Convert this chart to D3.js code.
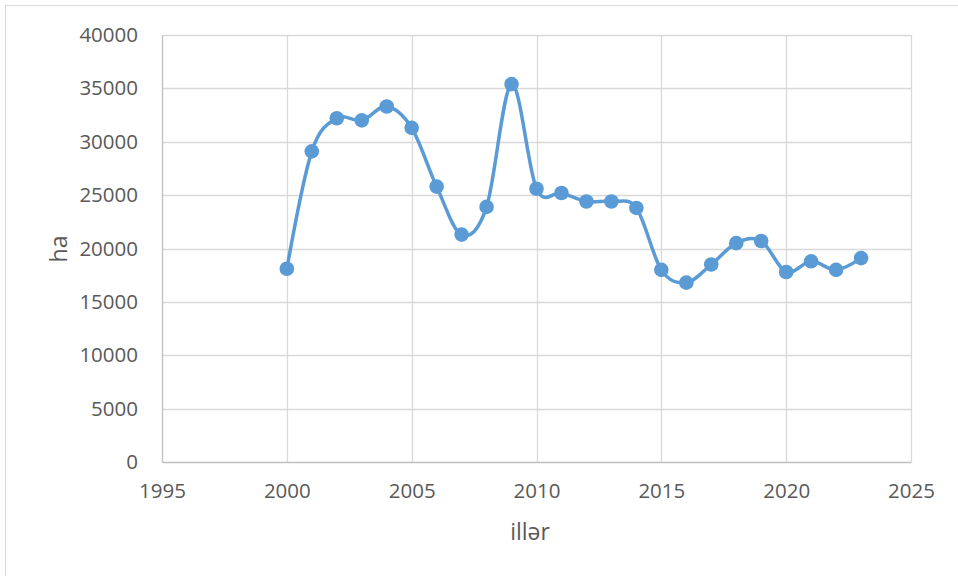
<!DOCTYPE html>
<html>
<head>
<meta charset="utf-8">
<script src="https://cdn.jsdelivr.net/npm/d3@7"></script>
<style>
  body { margin: 0; background: #fff; }
  text { font-family: "Open Sans", "Noto Sans", sans-serif; fill: #595959; }
</style>
</head>
<body>
<svg id="chart" width="958" height="576"></svg>
<script>
// values
const years = [2000, 2001, 2002, 2003, 2004, 2005, 2006, 2007, 2008, 2009, 2010, 2011,
  2012, 2013, 2014, 2015, 2016, 2017, 2018, 2019, 2020, 2021, 2022, 2023];
const area = [18100, 29100, 32200, 32000, 33300, 31300, 25800, 21300, 23900, 35400, 25600, 25200,
  24400, 24400, 23800, 18000, 16800, 18500, 20500, 20700, 17800, 18800, 18000, 19100];
const xTicks = [1995, 2000, 2005, 2010, 2015, 2020, 2025];
const yTicks = [0, 5000, 10000, 15000, 20000, 25000, 30000, 35000, 40000];
const xTitle = "illər";
const yTitle = "ha";

var svg = d3.select("#chart");
var margin = {top: 35, right: 47, bottom: 114, left: 162},
  width = 958 - margin.left - margin.right,
  height = 576 - margin.top - margin.bottom;

// outer chart border
svg.append("rect")
  .attr("x", 5.5).attr("y", 5.5)
  .attr("width", 965).attr("height", 590)
  .attr("fill", "none")
  .attr("stroke", "#d9d9d9");

var x = d3.scaleLinear().domain([1995, 2025]).range([0, width]);
var y = d3.scaleLinear().domain([0, 40000]).range([height, 0]);

var g = svg.append("g")
  .attr("transform", "translate(" + margin.left + "," + margin.top + ")");

// gridlines
g.append("g")
  .selectAll("line")
  .data(yTicks.slice(1))
  .enter().append("line")
  .attr("x1", 0).attr("x2", width)
  .attr("y1", d => Math.round(y(d)) + 0.5)
  .attr("y2", d => Math.round(y(d)) + 0.5)
  .attr("stroke", "#d9d9d9")
  .attr("stroke-width", 1.3);

g.append("g")
  .selectAll("line")
  .data(xTicks.slice(1))
  .enter().append("line")
  .attr("y1", 0).attr("y2", height)
  .attr("x1", d => Math.round(x(d)) + 0.5)
  .attr("x2", d => Math.round(x(d)) + 0.5)
  .attr("stroke", "#d9d9d9")
  .attr("stroke-width", 1.3);

// axes
var xAxis = g.append("g")
  .attr("transform", "translate(0," + height + ")")
  .call(d3.axisBottom(x).tickValues(xTicks).tickFormat(d3.format("d")).tickSize(0).tickPadding(21));
xAxis.select(".domain").attr("stroke", "#bfbfbf").attr("stroke-width", 1.3);

var yAxis = g.append("g")
  .call(d3.axisLeft(y).tickValues(yTicks).tickFormat(d3.format("d")).tickSize(0).tickPadding(24));
yAxis.select(".domain").attr("stroke", "#bfbfbf").attr("stroke-width", 1.3);

g.selectAll(".tick text")
  .style("font-size", "20.5px")
  .attr("fill", "#595959");

// axis titles
svg.append("text")
  .attr("x", 530).attr("y", 540)
  .attr("text-anchor", "middle")
  .style("font-size", "23px")
  .text(xTitle);

svg.append("text")
  .attr("transform", "translate(67,249) rotate(-90)")
  .attr("text-anchor", "middle")
  .style("font-size", "23px")
  .text(yTitle);

// smoothed line
var line = d3.line()
  .x((d, i) => x(years[i]))
  .y(d => y(d))
  .curve(d3.curveCardinal.tension(0));

g.append("path")
  .attr("d", line(area))
  .attr("fill", "none")
  .attr("stroke", "#5b9bd5")
  .attr("stroke-width", 3.5);

g.selectAll(".dot")
  .data(area)
  .enter().append("circle")
  .attr("class", "dot")
  .attr("cx", (d, i) => x(years[i]))
  .attr("cy", d => y(d))
  .attr("r", 7.3)
  .attr("fill", "#5b9bd5");
</script>
</body>
</html>
